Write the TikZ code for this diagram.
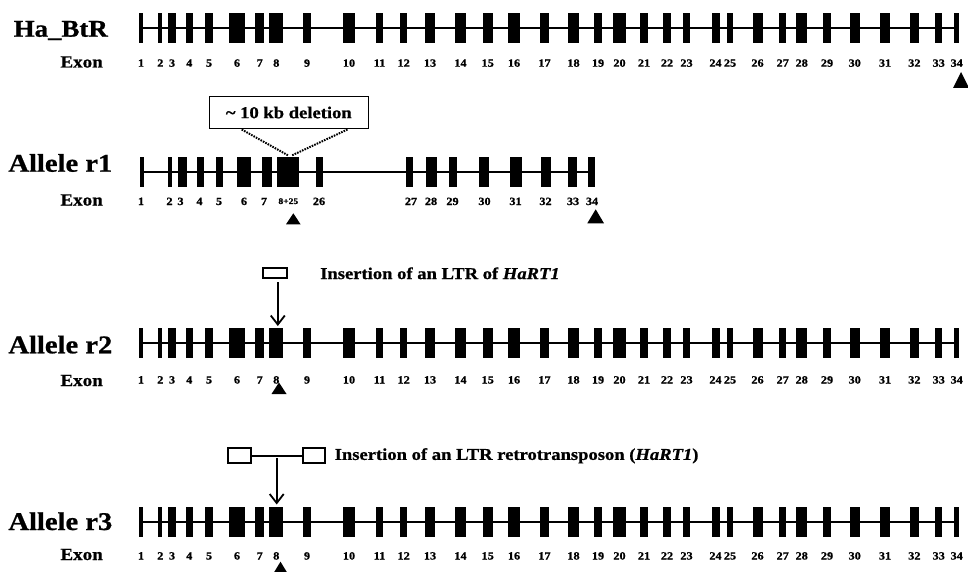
\documentclass[tikz,border=0pt]{standalone}
\usepackage{fontspec}
\setmainfont{Liberation Serif}[FakeStretch=1.12, BoldFeatures={FakeBold=0.8}, BoldItalicFeatures={FakeBold=0.8}]
\usetikzlibrary{arrows.meta}
\def\fullexons{141/3.5/1, 160.3/4/2, 172/8.3/3, 189.3/6.7/4, 209/8.3/5, 237/15.5/6, 259.7/8.7/7, 276.3/14/8, 307/7.3/9, 349/11.7/10, 379.5/7.7/11, 403.7/7.3/12, 430/10/13, 460.5/11/14, 487.7/10/15, 514/11.7/16, 544.5/8.5/17, 573.5/10.5/18, 598/7.7/19, 619.5/12.7/20, 644/8.5/21, 667/8/22, 686.5/6.7/23, 715.5/8/24, 730/6.7/25, 757.5/10/26, 782.7/7.3/27, 801.7/11/28, 827/8/29, 854.7/10/30, 885/10.7/31, 914.3/9.3/32, 938.7/7.3/33, 956.7/4.5/34}
\def\roneexons{142/4/1/141, 170.3/4/2/169.5, 182.5/8.3/3/180.5, 200.7/6.7/4/199.5, 219.7/7.3/5/219, 244/13.3/6/244, 266.7/10/7/264, 319.3/6.7/26/319, 409.7/7.3/27/411, 431.3/10.7/28/431, 453/7.3/29/452.5, 484.3/10/30/484.5, 515.8/11.7/31/515.5, 545.8/9.7/32/545.5, 572.5/8.3/33/573, 591.7/6.7/34/592}
\newcommand\drawfullrow[3]{%
  \draw[gline] (139.3,#1) -- (958.3,#1);
  \foreach \c/\w/\lab in \fullexons {
    \fill (\c-\w/2,#1-15) rectangle (\c+\w/2,#1+15);
    \node[exnum] (#3\lab) at (\c,#2) {\lab};
  }
}
\begin{document}
\begin{tikzpicture}[x=1pt,y=-1pt,
  gline/.style={line width=1.8pt},
  exnum/.style={anchor=base, inner sep=0pt, font=\bfseries\fontsize{11}{12}\selectfont},
  rowlabel/.style={anchor=base east, inner sep=0pt, font=\bfseries\fontsize{24}{28}\selectfont},
  allelelabel/.style={anchor=base east, inner sep=0pt, font=\bfseries\fontsize{25.5}{28}\selectfont},
  exonlabel/.style={anchor=base east, inner sep=0pt, font=\bfseries\fontsize{17}{20}\selectfont},
  note/.style={anchor=west, inner sep=0pt, font=\bfseries\fontsize{16.6}{20}\selectfont},
  ltrbox/.style={draw, line width=2pt, inner sep=0pt},
  insarrow/.style={line width=1.8pt, -{Straight Barb[length=9pt,width=14pt,line width=1.8pt]}},
  dotline/.style={line width=2pt, dash pattern=on 1.6pt off 1.1pt}
]
\useasboundingbox (0,0) rectangle (968,572);
\clip (0,0) rectangle (968,572);

% ---------- Ha_BtR ----------
\node[rowlabel] (lab0) at (108,36.7) {Ha\_BtR};
\node[exonlabel] (ex0) at (103,67.5) {Exon};
\drawfullrow{28.3}{66.7}{a}
\fill (961,72) -- (953,88) -- (969,88) -- cycle;

% ---------- Allele r1 ----------
\node[allelelabel] (lab1) at (112.5,171.7) {Allele r1};
\node[exonlabel] (ex1) at (103,205.5) {Exon};
\draw[gline] (140,171.7) -- (595,171.7);
\foreach \c/\w/\lab/\lx in \roneexons {
  \fill (\c-\w/2,156.7) rectangle (\c+\w/2,186.7);
  \node[exnum] (b\lab) at (\lx,205) {\lab};
}
\fill (277.3,156.7) rectangle (299.3,186.7);
\node[exnum, font=\bfseries\fontsize{8.5}{10}\selectfont] (b825) at (288.3,204) {8+25};
\fill (293.3,213.3) -- (286,224.3) -- (300.6,224.3) -- cycle;
\fill (595.7,209.3) -- (587.3,223.3) -- (604,223.3) -- cycle;
\node[draw, line width=1.5pt, minimum width=159pt, minimum height=31.6pt, inner sep=0pt,
      font=\bfseries\fontsize{16.6}{20}\selectfont] (del) at (288.8,112.5) {\textasciitilde\ 10 kb deletion};
\coordinate (dL) at (241.7,129.5);
\coordinate (dR) at (347.5,129.5);
\coordinate (dM1) at (288.3,155.5);
\coordinate (dM2) at (291.7,155.5);
\draw[dotline] (dL) -- (dM1);
\draw[dotline] (dR) -- (dM2);

% ---------- Allele r2 ----------
\node[allelelabel] (lab2) at (112.5,353.3) {Allele r2};
\node[exonlabel] (ex2) at (103,386) {Exon};
\drawfullrow{343.3}{383.5}{c}
\node[ltrbox, minimum width=24pt, minimum height=10pt] (ltr2) at (275.3,273.3) {};
\coordinate (t2) at (277.8,326);
\draw[insarrow] ([yshift=-3pt]ltr2.south -| t2) -- (t2);
\node[note] (ins2) at (320,273.3) {Insertion of an LTR of \textit{HaRT1}};
\fill (279,382.5) -- (271.5,394) -- (286.5,394) -- cycle;

% ---------- Allele r3 ----------
\node[allelelabel] (lab3) at (112.5,530) {Allele r3};
\node[exonlabel] (ex3) at (103,560) {Exon};
\drawfullrow{521.7}{559.5}{d}
\node[ltrbox, minimum width=23pt, minimum height=15pt] (ltr3a) at (239.2,455.8) {};
\node[ltrbox, minimum width=21.7pt, minimum height=15pt] (ltr3b) at (314.2,455.8) {};
\draw[gline] (ltr3a.east) -- (ltr3b.west);
\coordinate (s3) at (276.7,458);
\coordinate (t3) at (276.7,504.5);
\draw[insarrow] (s3) -- (t3);
\node[note] (ins3) at (334.5,455.8) {Insertion of an LTR retrotransposon (\textit{HaRT1})};
\fill (280.5,561.7) -- (273,574) -- (288,574) -- cycle;
\end{tikzpicture}
\end{document}
